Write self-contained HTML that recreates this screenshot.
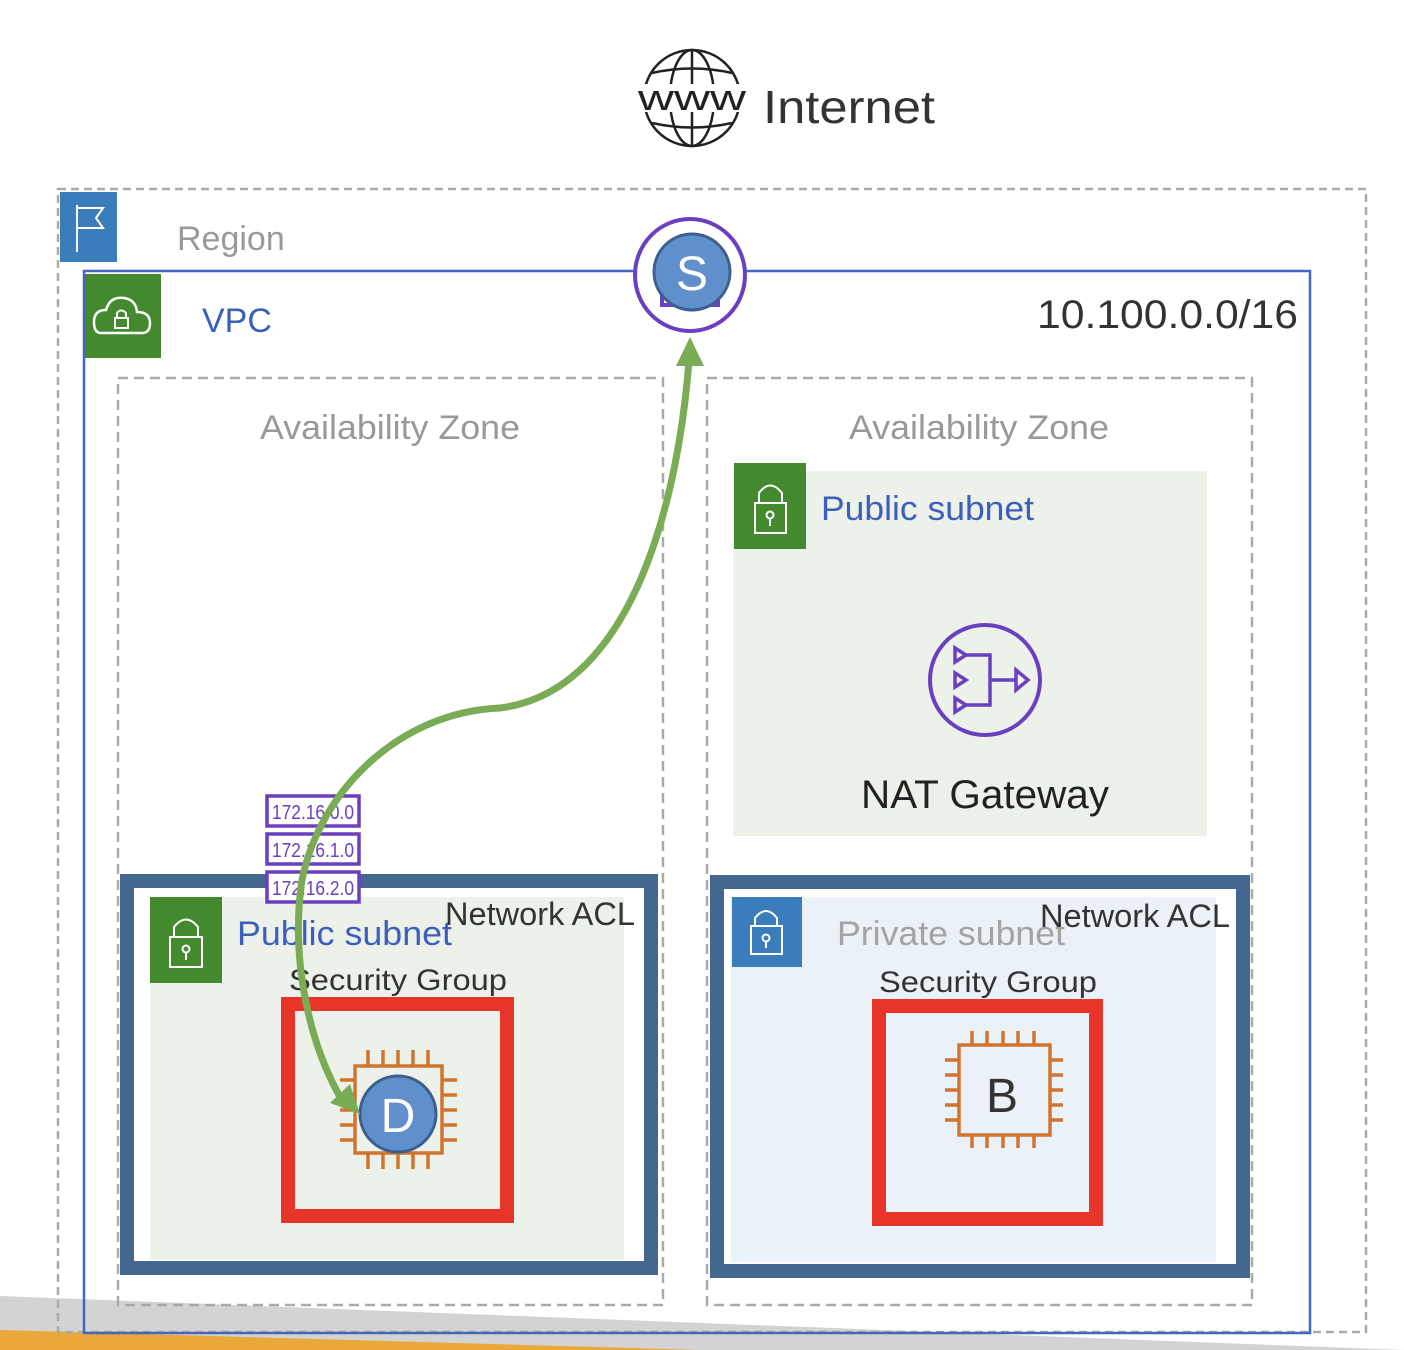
<!DOCTYPE html>
<html><head><meta charset="utf-8"><style>
html,body{margin:0;padding:0;background:#fff;width:1404px;height:1350px;overflow:hidden}
svg text{font-family:"Liberation Sans",sans-serif}
</style></head><body>
<svg width="1404" height="1350" viewBox="0 0 1404 1350" xmlns="http://www.w3.org/2000/svg">
<polygon points="0,1296 1404,1350 0,1350" fill="#d3d3d3"/>
<polygon points="0,1330 700,1350 0,1350" fill="#eba83a"/>

<g fill="none" stroke="#222" stroke-width="2.5">
<circle cx="692" cy="98" r="48"/>
<ellipse cx="692" cy="98" rx="22" ry="48"/>
<line x1="692" y1="50" x2="692" y2="146"/>
<path d="M652,73 Q692,64 732,73"/>
<path d="M652,123 Q692,132 732,123"/>
</g>
<rect x="638" y="84" width="108" height="28" fill="#fff"/>
<text x="692" y="110" font-size="36" text-anchor="middle" fill="#222" textLength="108" lengthAdjust="spacingAndGlyphs">www</text>
<text x="763" y="123" font-size="46" fill="#333" textLength="172" lengthAdjust="spacingAndGlyphs">Internet</text>

<rect x="58" y="189" width="1308" height="1143" fill="none" stroke="#aaa" stroke-width="2.5" stroke-dasharray="8,5"/>
<rect x="60" y="192" width="57" height="70" fill="#3b7dbb"/>
<path d="M77,205 V252 M77,208 H103 L96,218 L103,228 H77" fill="none" stroke="#fff" stroke-width="2"/>
<text x="177" y="250" font-size="34" fill="#999">Region</text>

<rect x="84" y="271" width="1226" height="1062" fill="none" stroke="#4466bb" stroke-width="2.5"/>
<rect x="85" y="274" width="76" height="84" fill="#438a2f"/>
<path d="M101,333 Q94,333 94,322 Q94,310 106,310 Q110,296 124,298 Q136,300 137,312 Q150,312 150,323 Q150,333 142,333 Z" fill="none" stroke="#fff" stroke-width="2.5"/>
<rect x="115" y="318" width="13" height="10" fill="none" stroke="#fff" stroke-width="2"/>
<path d="M117,318 V313 Q121,308 126,313 V318" fill="none" stroke="#fff" stroke-width="2"/>
<text x="202" y="332" font-size="34" fill="#3d5fbb">VPC</text>
<text x="1037" y="328" font-size="40" fill="#333" textLength="261" lengthAdjust="spacingAndGlyphs">10.100.0.0/16</text>

<rect x="118" y="378" width="545" height="927" fill="none" stroke="#aaa" stroke-width="2.5" stroke-dasharray="10,6"/>
<rect x="707" y="378" width="545" height="927" fill="none" stroke="#aaa" stroke-width="2.5" stroke-dasharray="10,6"/>
<text x="390" y="439" font-size="34" fill="#999" text-anchor="middle" textLength="260" lengthAdjust="spacingAndGlyphs">Availability Zone</text>
<text x="979" y="439" font-size="34" fill="#999" text-anchor="middle" textLength="260" lengthAdjust="spacingAndGlyphs">Availability Zone</text>

<rect x="733" y="471" width="474" height="365" fill="#ecf2e9"/>
<rect x="734" y="463" width="72" height="86" fill="#438a2f"/>
<g fill="none" stroke="#fff" stroke-width="2"><rect x="755" y="503" width="31" height="30"/><path d="M759,503 V493 Q770,478 782,493 V503"/><circle cx="770" cy="515" r="3.5"/><line x1="770" y1="518" x2="770" y2="526"/></g>
<text x="821" y="520" font-size="34" fill="#3d5fbb" textLength="213" lengthAdjust="spacingAndGlyphs">Public subnet</text>
<circle cx="985" cy="680" r="55" fill="none" stroke="#6a3fc1" stroke-width="4"/>
<g fill="none" stroke="#6a3fc1" stroke-width="3.5">
<path d="M955,648 L966,655 L955,662 Z M955,673 L966,680 L955,687 Z M955,698 L966,705 L955,712 Z"/>
<path d="M966,655 H990 V705 H966 M990,680 H1016"/>
<path d="M1016,670 L1028,680 L1016,690 Z"/>
</g>
<text x="985" y="808" font-size="40" fill="#222" text-anchor="middle" textLength="248" lengthAdjust="spacingAndGlyphs">NAT Gateway</text>

<rect x="127" y="881" width="524" height="387" fill="#fff" stroke="#44678f" stroke-width="14"/>
<rect x="150" y="897" width="474" height="363" fill="#ecf2e9"/>
<rect x="150" y="897" width="72" height="86" fill="#438a2f"/>
<g fill="none" stroke="#fff" stroke-width="2"><rect x="170" y="937" width="32" height="30"/><path d="M174,937 V927 Q186,912 198,927 V937"/><circle cx="186" cy="949" r="3.5"/><line x1="186" y1="952" x2="186" y2="960"/></g>
<text x="237" y="945" font-size="34" fill="#3d5fbb" textLength="215" lengthAdjust="spacingAndGlyphs">Public subnet</text>
<text x="445" y="925" font-size="32" fill="#333" textLength="190" lengthAdjust="spacingAndGlyphs">Network ACL</text>
<text x="289" y="990" font-size="30" fill="#333" textLength="218" lengthAdjust="spacingAndGlyphs">Security Group</text>
<rect x="288" y="1004" width="219" height="212" fill="none" stroke="#e8352a" stroke-width="14"/>
<g stroke="#d0742f" stroke-width="3.5" fill="none">
<rect x="355" y="1066" width="87" height="87"/>
<path d="M368,1050V1066M383,1050V1066M398,1050V1066M413,1050V1066M428,1050V1066 M368,1153V1169M383,1153V1169M398,1153V1169M413,1153V1169M428,1153V1169 M340,1080H355M340,1095H355M340,1110H355M340,1125H355M340,1140H355 M442,1080H457M442,1095H457M442,1110H457M442,1125H457M442,1140H457"/>
</g>
<circle cx="398" cy="1114" r="38" fill="#6090cb" stroke="#3c5f90" stroke-width="3"/>
<text x="398" y="1132" font-size="48" fill="#fff" text-anchor="middle">D</text>

<g fill="#fff" stroke="#6a3fc1" stroke-width="3.5">
<rect x="267" y="796" width="92" height="30"/><rect x="267" y="834" width="92" height="30"/><rect x="267" y="872" width="92" height="30"/>
</g>
<g font-size="20" fill="#6a3fc1" text-anchor="middle">
<text x="313" y="819" textLength="82" lengthAdjust="spacingAndGlyphs">172.16.0.0</text><text x="313" y="857" textLength="82" lengthAdjust="spacingAndGlyphs">172.16.1.0</text><text x="313" y="895" textLength="82" lengthAdjust="spacingAndGlyphs">172.16.2.0</text>
</g>

<rect x="717" y="882" width="526" height="389" fill="#fff" stroke="#44678f" stroke-width="14"/>
<rect x="731" y="897" width="485" height="365" fill="#ebf1f8"/>
<rect x="732" y="897" width="70" height="70" fill="#3b7dbb"/>
<g fill="none" stroke="#fff" stroke-width="2"><rect x="751" y="926" width="31" height="28"/><path d="M755,926 V918 Q766,904 777,918 V926"/><circle cx="766" cy="938" r="3.5"/><line x1="766" y1="941" x2="766" y2="948"/></g>
<text x="837" y="945" font-size="34" fill="#a3a3a3" textLength="228" lengthAdjust="spacingAndGlyphs">Private subnet</text>
<text x="1040" y="927" font-size="32" fill="#333" textLength="190" lengthAdjust="spacingAndGlyphs">Network ACL</text>
<text x="879" y="992" font-size="30" fill="#333" textLength="218" lengthAdjust="spacingAndGlyphs">Security Group</text>
<rect x="879" y="1006" width="217" height="213" fill="none" stroke="#e8352a" stroke-width="14"/>
<g stroke="#d0742f" stroke-width="3.5" fill="none">
<rect x="959" y="1045" width="91" height="90"/>
<path d="M972,1031V1045M987,1031V1045M1003,1031V1045M1018,1031V1045M1034,1031V1045 M972,1135V1148M987,1135V1148M1003,1135V1148M1018,1135V1148M1034,1135V1148 M945,1060H959M945,1075H959M945,1090H959M945,1105H959M945,1120H959 M1050,1060H1063M1050,1075H1063M1050,1090H1063M1050,1105H1063M1050,1120H1063"/>
</g>
<text x="1002" y="1112" font-size="48" fill="#333" text-anchor="middle">B</text>

<path d="M689,360 C680,480 640,690 500,708 C400,712 320,790 302,880 C290,960 310,1050 345,1105" fill="none" stroke="#7aab55" stroke-width="7"/>
<polygon points="690,337 676,366 704,366" fill="#7aab55"/>
<polygon points="360,1114 330,1103 350,1084" fill="#7aab55"/>

<ellipse cx="690" cy="275" rx="55" ry="56" fill="#fff" stroke="#6a3fc1" stroke-width="4"/>
<path d="M662,290 V305 H675 M718,290 V305 H705" fill="none" stroke="#6a3fc1" stroke-width="4"/>
<circle cx="692" cy="272" r="38" fill="#6090cb" stroke="#3c5f90" stroke-width="3"/>
<text x="692" y="290" font-size="48" fill="#fff" text-anchor="middle">S</text>
</svg>
</body></html>
